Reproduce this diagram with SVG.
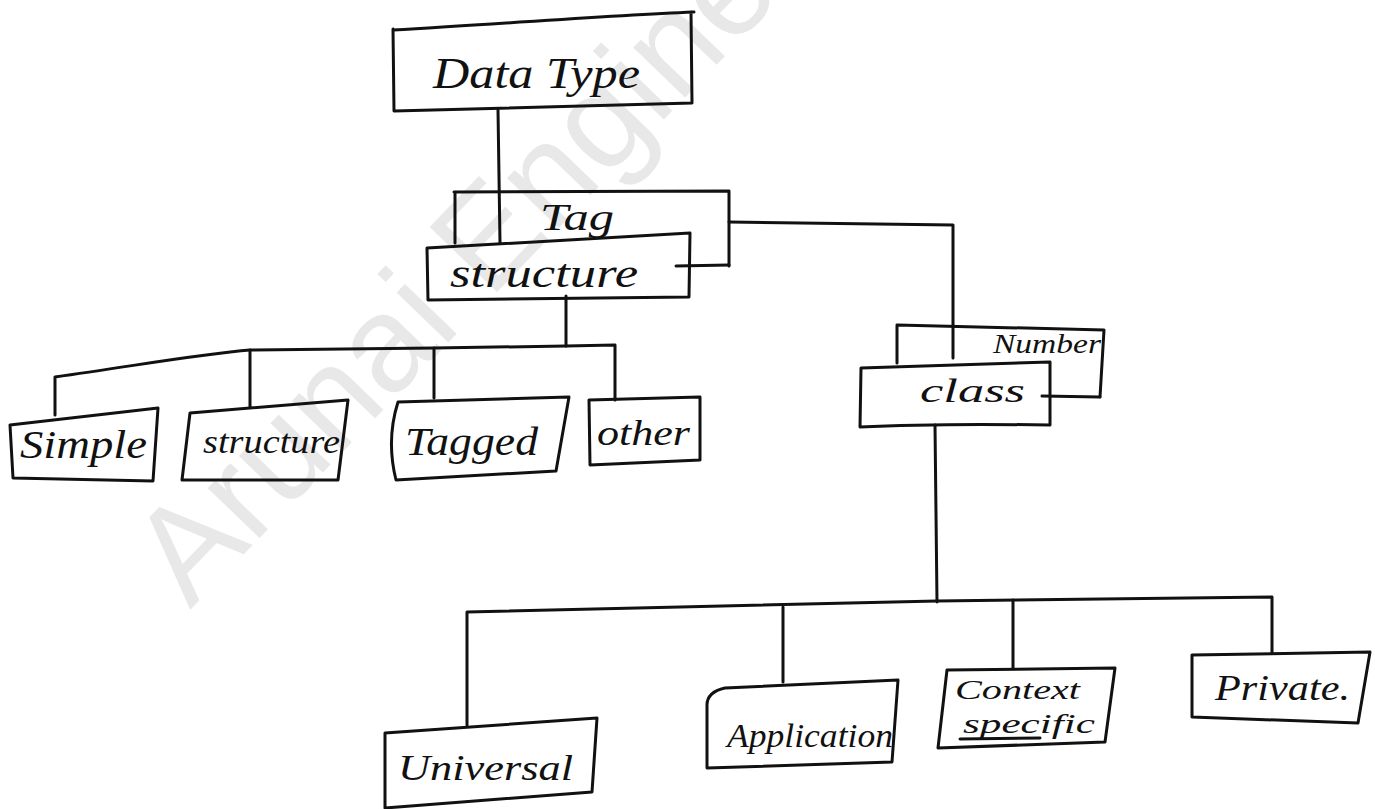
<svg xmlns="http://www.w3.org/2000/svg" width="1375" height="809" viewBox="0 0 1375 809">
  <style>
    .ink { fill: none; stroke: #111; stroke-width: 3; stroke-linecap: round; stroke-linejoin: round; }
    .lbl { font-family: "Liberation Serif", "DejaVu Serif", serif; font-style: italic; fill: #111; }
    .wm { font-family: "Liberation Sans", "DejaVu Sans", sans-serif; fill: #e8e8e8; }
  </style>
  <rect width="1375" height="809" fill="#ffffff"/>

  <!-- faint diagonal watermark behind the drawing -->
  <text class="wm" x="0" y="0" font-size="136" transform="translate(190,610) rotate(-46)">Arunai Engineering</text>

  <!-- connectors -->
  <g id="connectors" class="ink">
    <path d="M498,110 L500,243"/>
    <path d="M729,222 L953,225 L953,358"/>
    <path d="M676,266 L729,265"/>
    <path d="M566,296 L566,346"/>
    <path d="M55,415 L55,377 C 140,365 200,354 250,350 L434,348 L566,346 L615,345 L615,400"/>
    <path d="M250,350 L250,407"/>
    <path d="M434,348 L434,398"/>
    <path d="M1042,396 L1100,397"/>
    <path d="M935,425 L937,602"/>
    <path d="M467,725 L467,612 L680,607 L937,601 L1272,597 L1272,652"/>
    <path d="M783,607 L783,682"/>
    <path d="M1013,600 L1013,668"/>
  </g>

  <g id="node-datatype">
    <path class="ink" d="M393,30 C 500,24 600,16 694,12 M691,12 L692,103 M394,111 L692,103 M393,29 L394,111"/>
    <text class="lbl" x="433" y="88" font-size="44" textLength="207" lengthAdjust="spacingAndGlyphs">Data Type</text>
  </g>

  <g id="node-tag">
    <path class="ink" d="M454,192 L729,191 L729,266 M455,192 L455,243"/>
    <text class="lbl" x="540" y="230" font-size="38" textLength="74" lengthAdjust="spacingAndGlyphs">Tag</text>
  </g>

  <g id="node-structure">
    <path class="ink" d="M427,248 L690,233 L689,297 L428,300 Z"/>
    <text class="lbl" x="450" y="287" font-size="40" textLength="188" lengthAdjust="spacingAndGlyphs">structure</text>
  </g>

  <g id="node-simple">
    <path class="ink" d="M10,425 L158,408 L153,481 L13,478 Z"/>
    <text class="lbl" x="20" y="458" font-size="40" textLength="127" lengthAdjust="spacingAndGlyphs">Simple</text>
  </g>

  <g id="node-structure-type">
    <path class="ink" d="M190,413 L348,400 L338,480 L182,480 Z"/>
    <text class="lbl" x="203" y="453" font-size="34" textLength="137" lengthAdjust="spacingAndGlyphs">structure</text>
  </g>

  <g id="node-tagged">
    <path class="ink" d="M398,402 L569,397 L556,471 L396,480 Q386,440 398,402 Z"/>
    <text class="lbl" x="405" y="455" font-size="40" textLength="133" lengthAdjust="spacingAndGlyphs">Tagged</text>
  </g>

  <g id="node-other">
    <path class="ink" d="M589,400 L700,397 L700,460 L590,465 Z"/>
    <text class="lbl" x="597" y="445" font-size="36" textLength="93" lengthAdjust="spacingAndGlyphs">other</text>
  </g>

  <g id="node-number">
    <path class="ink" d="M897,325 L1104,330 L1100,397 M897,325 L897,363"/>
    <text class="lbl" x="993" y="353" font-size="28" textLength="108" lengthAdjust="spacingAndGlyphs">Number</text>
  </g>

  <g id="node-class">
    <path class="ink" d="M861,368 L1050,362 L1050,425 C 980,424 920,424 860,427 Z"/>
    <text class="lbl" x="920" y="402" font-size="34" textLength="105" lengthAdjust="spacingAndGlyphs">class</text>
  </g>

  <g id="node-universal">
    <path class="ink" d="M385,733 L597,718 L592,792 L385,808 Z"/>
    <text class="lbl" x="398" y="780" font-size="36" textLength="175" lengthAdjust="spacingAndGlyphs">Universal</text>
  </g>

  <g id="node-application">
    <path class="ink" d="M725,688 L898,680 L892,762 L707,768 L707,705 Q707,692 725,688 Z"/>
    <text class="lbl" x="727" y="747" font-size="34" textLength="166" lengthAdjust="spacingAndGlyphs">Application</text>
  </g>

  <g id="node-context">
    <path class="ink" d="M947,670 L1115,668 L1105,742 L938,748 Z"/>
    <text class="lbl" x="955" y="699" font-size="28" textLength="125" lengthAdjust="spacingAndGlyphs">Context</text>
    <text class="lbl" x="963" y="733" font-size="28" textLength="132" lengthAdjust="spacingAndGlyphs">specific</text>
    <path class="ink" d="M960,739 L1040,738" stroke-width="2"/>
  </g>

  <g id="node-private">
    <path class="ink" d="M1192,655 L1370,652 L1358,723 L1192,717 Z"/>
    <text class="lbl" x="1215" y="700" font-size="36" textLength="135" lengthAdjust="spacingAndGlyphs">Private.</text>
  </g>
</svg>
